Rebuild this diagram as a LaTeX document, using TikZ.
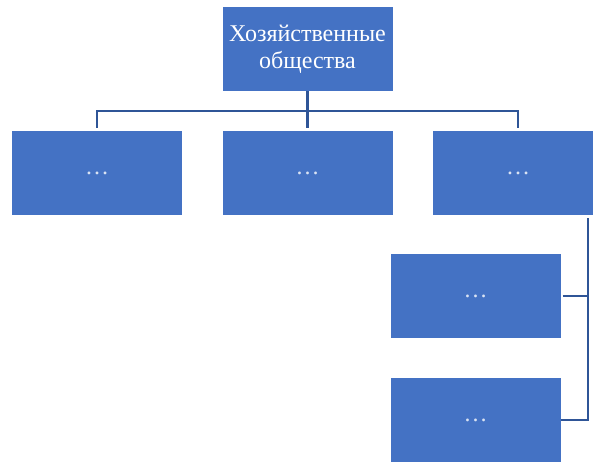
\documentclass[tikz,border=0pt]{standalone}
\usepackage{fontspec}
\setmainfont{Liberation Serif}
\usetikzlibrary{positioning}
\definecolor{boxblue}{HTML}{4472C4}
\definecolor{linkblue}{HTML}{2F5597}
\definecolor{dotblue}{HTML}{DAE3F3}
\tikzset{
	unitbox/.style={rectangle, fill=boxblue, inner sep=0pt, minimum width=170pt, minimum height=84pt, text=white, align=center, font=\fontsize{24}{27}\selectfont},
	link/.style={draw=linkblue, line width=2.8pt}
}

\begin{document}
\begin{tikzpicture}[x=1pt,y=-1pt]
		\useasboundingbox (0,0) rectangle (593,461);
		\node[unitbox] (top) at (307.5,49) {Хозяйственные\\общества};
		\node[unitbox] (b1) at (97,173) {\textcolor{dotblue}{…}};
		\node[unitbox] (b2) at (307.5,173) {\textcolor{dotblue}{…}};
		\node[unitbox] (b3) at (518,173) {\textcolor{dotblue}{…}};
		\node[unitbox] (c1) at (475.5,296) {\textcolor{dotblue}{…}};
		\node[unitbox] (c2) at (475.5,420) {\textcolor{dotblue}{…}};
		% bus under the top box:
		\coordinate (bus) at (307.5,111);
		\draw[link] (top.south)--(bus);
		\draw[link, shorten <=3pt] (b1.north)|-(bus);
		\draw[link, shorten <=3pt] (b3.north)|-(bus);
		\draw[link, shorten <=3pt] (b2.north)--(bus);
		% hanging boxes under the third box:
		\coordinate (hang) at (588,218);
		\draw[link] (hang)|-(c2.east);
		\draw[link, shorten <=2pt] (c1.east)--(c1.east -| hang);
		\draw[link, shorten <=2pt] (c2.east)--(c2.east -| hang);
\end{tikzpicture}
\end{document}
